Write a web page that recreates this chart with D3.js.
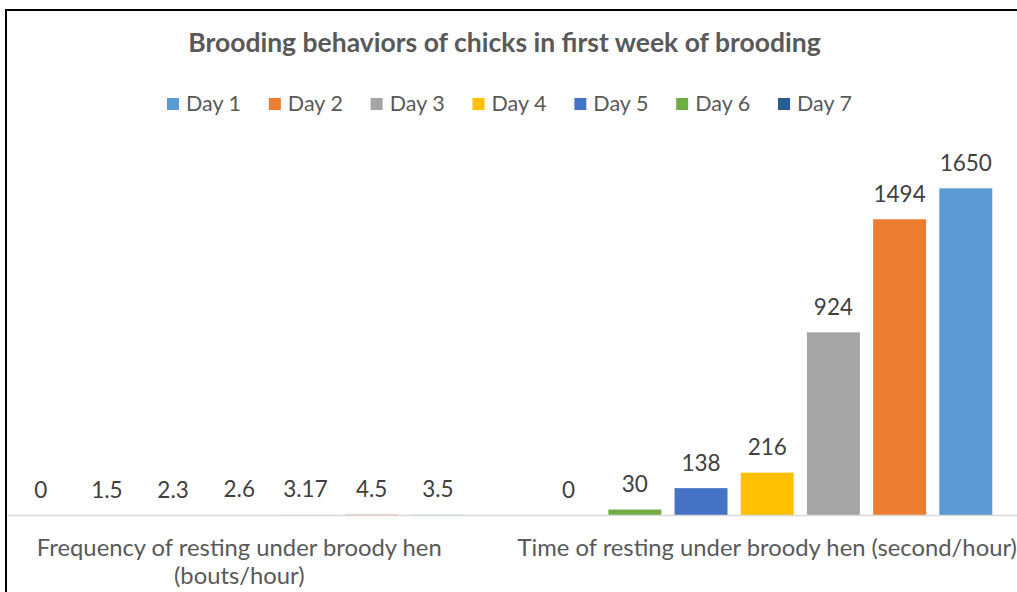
<!DOCTYPE html>
<html>
<head>
<meta charset="utf-8">
<script src="https://cdn.jsdelivr.net/npm/d3@7"></script>
<style>
  html, body { margin: 0; padding: 0; background: #fff; }
  svg { display: block; }
  text { font-family: Lato, "Open Sans", sans-serif; }
</style>
</head>
<body>
<svg id="chart" width="1017" height="592"></svg>
<script>
// ---- data ----
const title = "Brooding behaviors of chicks in first week of brooding";
const categories = [
  "Frequency of resting under broody hen\n(bouts/hour)",
  "Time of resting under broody hen (second/hour)"
];
const days = ["Day 1", "Day 2", "Day 3", "Day 4", "Day 5", "Day 6", "Day 7"];
const colors = ["#5B9BD5", "#ED7D31", "#A5A5A5", "#FFC000", "#4472C4", "#70AD47", "#255E91"];
const frequencyValues = [3.5, 4.5, 3.17, 2.6, 2.3, 1.5, 0];      // Day 1..Day 7
const timeValues = [1650, 1494, 924, 216, 138, 30, 0];           // Day 1..Day 7
const frequencyLabels = ["3.5", "4.5", "3.17", "2.6", "2.3", "1.5", "0"];
const timeLabels = ["1650", "1494", "924", "216", "138", "30", "0"];

// ---- layout ----
const W = 1017, H = 592;
const svg = d3.select("#chart");
const axisY = 515.5;

const rows = [];
[frequencyValues, timeValues].forEach((vals, ci) => {
  const labs = ci === 0 ? frequencyLabels : timeLabels;
  vals.forEach((v, di) => rows.push({cat: categories[ci], day: days[di], color: colors[di], value: v, label: labs[di]}));
});

const x0 = d3.scaleBand().domain(categories).range([-24.7, 1031.2]).paddingInner(0).paddingOuter(0);
const x1 = d3.scaleBand().domain(days.slice().reverse()).range([0, x0.bandwidth()])
  .paddingInner(0.2).paddingOuter(0.588);
const y = d3.scaleLinear().domain([0, 1800]).range([axisY, 158.6]);

// border
svg.append("rect").attr("x", 6).attr("y", 10).attr("width", W + 20).attr("height", H + 20)
  .attr("fill", "none").attr("stroke", "#000").attr("stroke-width", 2);

// title
svg.append("text").attr("x", 504.5).attr("y", 52).attr("text-anchor", "middle")
  .attr("fill", "#595959").attr("font-weight", "bold").attr("font-size", 26.5)
  .text(title);

// legend
const lx = d3.scalePoint().domain(days).range([167, 778]);
const leg = svg.append("g").selectAll("g").data(days).join("g")
  .attr("transform", d => `translate(${lx(d)},0)`);
leg.append("rect").attr("x", 0).attr("y", 98).attr("width", 12).attr("height", 12)
  .attr("fill", (d, i) => colors[i]);
leg.append("text").attr("x", 19).attr("y", 111).attr("fill", "#595959").attr("font-size", 21.5)
  .text(d => d);

// bars
svg.append("g").selectAll("rect").data(rows).join("rect")
  .attr("x", d => x0(d.cat) + x1(d.day))
  .attr("width", x1.bandwidth())
  .attr("y", d => y(d.value))
  .attr("height", d => axisY - y(d.value))
  .attr("fill", d => d.color);

// axis line
svg.append("line").attr("x1", 8).attr("x2", W).attr("y1", axisY).attr("y2", axisY)
  .attr("stroke", "#d9d9d9").attr("stroke-width", 1.5);

// data labels
svg.append("g").selectAll("text").data(rows).join("text")
  .attr("x", d => x0(d.cat) + x1(d.day) + x1.bandwidth() / 2)
  .attr("y", d => y(d.value) - 17.5)
  .attr("text-anchor", "middle").attr("fill", "#404040").attr("font-size", 22.5)
  .text(d => d.label);

// category labels
const cl = svg.append("g").selectAll("text").data(categories).join("text")
  .attr("x", d => x0(d) + x0.bandwidth() / 2)
  .attr("y", 556).attr("text-anchor", "middle").attr("fill", "#595959").attr("font-size", 23.8);
cl.each(function(d) {
  const t = d3.select(this);
  const cx = x0(d) + x0.bandwidth() / 2;
  d.split("\n").forEach((line, i) => {
    t.append("tspan").attr("x", cx).attr("dy", i === 0 ? 0 : 27.5).text(line);
  });
});
</script>
</body>
</html>
